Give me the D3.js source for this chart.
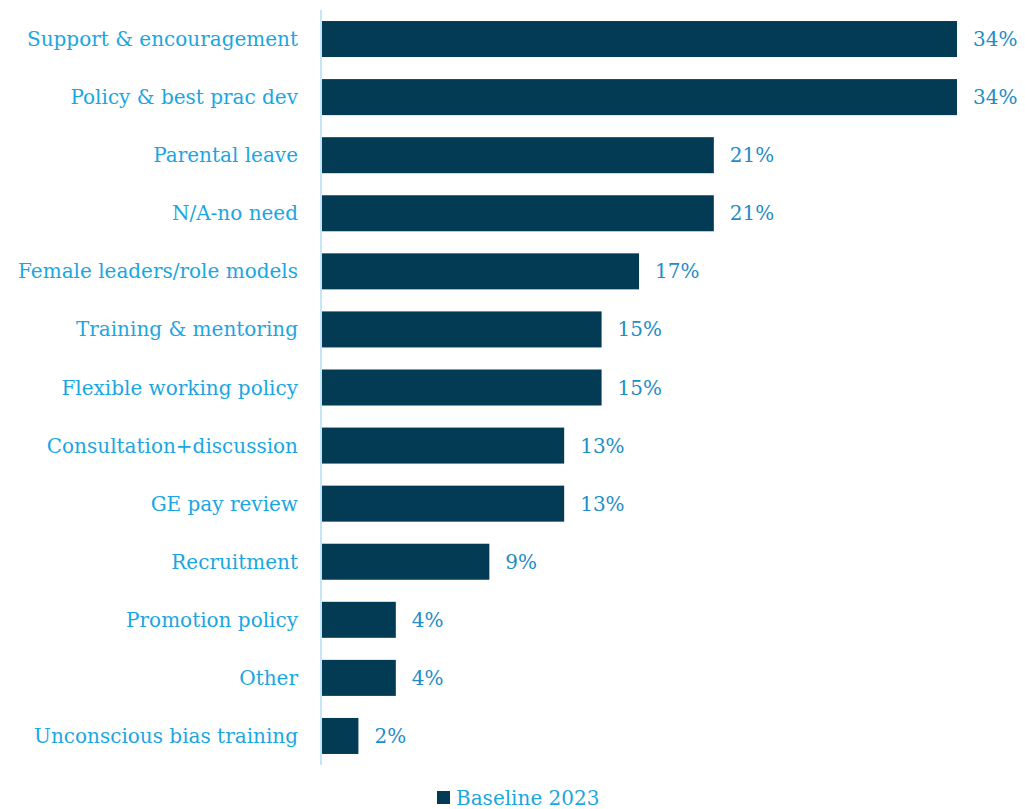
<!DOCTYPE html>
<html>
<head>
<meta charset="utf-8">
<script src="https://cdn.jsdelivr.net/npm/d3@7"></script>
<style>
  body { margin: 0; background: #fff; }
  text { font-family: "DejaVu Serif", serif; }
</style>
</head>
<body>
<script>
var categories = [
  "Support & encouragement", "Policy & best prac dev", "Parental leave ",
  "N/A-no need", "Female leaders/role models", "Training & mentoring",
  "Flexible working policy", "Consultation+discussion", "GE pay review",
  "Recruitment", "Promotion policy", "Other", "Unconscious bias training"
];
var values = [34, 34, 21, 21, 17, 15, 15, 13, 13, 9, 4, 4, 2];
var seriesName = "Baseline 2023";

var width = 1025, height = 809;
var plotLeft = 321, plotTop = 10, plotH = 755;

var svg = d3.select("body").append("svg")
    .attr("width", width)
    .attr("height", height);

var y = d3.scaleBand()
    .domain(categories)
    .range([plotTop, plotTop + plotH])
    .paddingInner(0.38)
    .paddingOuter(0.19);

var x = d3.scaleLinear()
    .domain([0, 34])
    .range([plotLeft, 957]);

svg.selectAll("rect.bar")
    .data(values)
    .enter()
    .append("rect")
    .attr("class", "bar")
    .attr("x", x(0))
    .attr("y", (d, i) => y(categories[i]))
    .attr("width", d => x(d) - x(0))
    .attr("height", y.bandwidth())
    .attr("fill", "#033A54");

// axis line
svg.append("line")
    .attr("x1", plotLeft).attr("x2", plotLeft)
    .attr("y1", plotTop).attr("y2", plotTop + plotH)
    .attr("stroke", "#C4E6F7")
    .attr("stroke-width", 2);

svg.selectAll("text.cat")
    .data(categories)
    .enter()
    .append("text")
    .attr("class", "cat")
    .attr("x", 298)
    .attr("y", d => y(d) + y.bandwidth() / 2)
    .attr("dy", "0.35em")
    .attr("text-anchor", "end")
    .attr("font-size", 20)
    .attr("fill", "#1BA6E1")
    .text(d => d);

svg.selectAll("text.val")
    .data(values)
    .enter()
    .append("text")
    .attr("class", "val")
    .attr("x", d => x(d) + 16)
    .attr("y", (d, i) => y(categories[i]) + y.bandwidth() / 2)
    .attr("dy", "0.35em")
    .attr("font-size", 20)
    .attr("fill", "#1F8DC6")
    .text(d => d + "%");

// legend
var lg = svg.append("g").attr("transform", "translate(437,791)");
lg.append("rect").attr("width", 13).attr("height", 13).attr("fill", "#033A54");
lg.append("text")
    .attr("x", 19).attr("y", 14)
    .attr("font-size", 20)
    .attr("fill", "#1BA6E1")
    .text(seriesName);
</script>
</body>
</html>
